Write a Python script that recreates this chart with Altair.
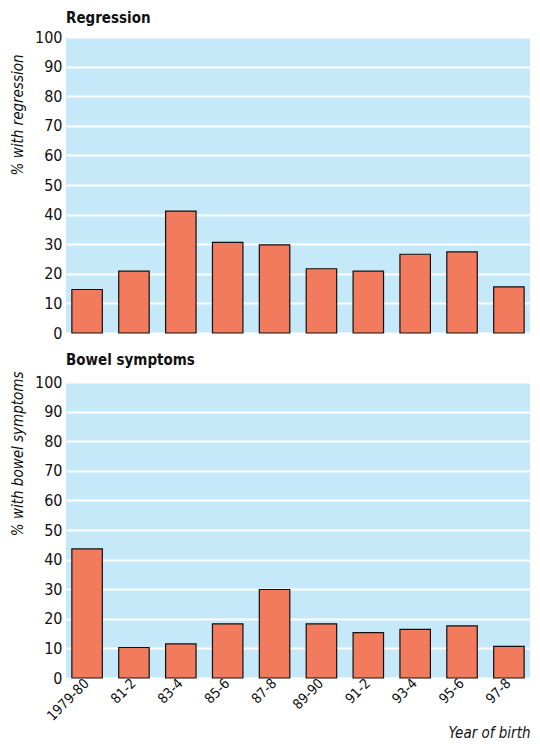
import altair as alt
import pandas as pd

years = ["1979-80", "81-2", "83-4", "85-6", "87-8", "89-90", "91-2", "93-4", "95-6", "97-8"]
regression = [14.7, 20.9, 41.2, 30.6, 29.8, 21.7, 20.9, 26.6, 27.4, 15.6]
bowel = [43.6, 10.3, 11.5, 18.3, 29.9, 18.3, 15.3, 16.4, 17.6, 10.7]

FONT = "'Liberation Sans Narrow', 'DejaVu Sans Condensed', 'Roboto Condensed', 'Liberation Sans', sans-serif"
BAR = "#f27b5d"
BG = "#c5e9f8"

df_reg = pd.DataFrame({"year": years, "value": regression})
df_bow = pd.DataFrame({"year": years, "value": bowel})

xscale = alt.Scale(domain=years, paddingInner=0.35, paddingOuter=0.125)
yscale = alt.Scale(domain=[0, 100])


def panel(df, title, ytitle, bottom, ty):
    if bottom:
        xaxis = alt.Axis(title="Year of birth", labelAngle=-45, labelAlign="right",
                         labelBaseline="middle", labelPadding=3, ticks=False, domain=False,
                         grid=False, labelFontSize=14, labelFont=FONT, labelColor="#111",
                         titleFont=FONT, titleFontSize=15, titleFontStyle="italic",
                         titleFontWeight="normal", titleAnchor="end", titleAlign="right",
                         titlePadding=2, titleColor="#111")
    else:
        xaxis = alt.Axis(title=None, labels=False, ticks=False, domain=False, grid=False)
    return alt.Chart(df).mark_bar(color=BAR, stroke="#111", strokeWidth=1.2).encode(
        x=alt.X("year:N", sort=years, scale=xscale, axis=xaxis),
        y=alt.Y("value:Q", scale=yscale,
                axis=alt.Axis(title=ytitle, values=list(range(0, 101, 10)), ticks=False,
                              domain=False, gridColor="white", gridWidth=2, gridOpacity=1,
                              labelFont=FONT, labelFontSize=16, labelColor="#111", labelPadding=4,
                              titleFont=FONT, titleFontSize=15, titleFontStyle="italic",
                              titleFontWeight="normal", titleColor="#111", titlePadding=9,
                              titleY=ty, titleAlign="right")),
    ).properties(
        width=464, height=296,
        title=alt.TitleParams(title, anchor="start", frame="group", font=FONT, fontSize=15,
                              fontWeight="bold", color="#111", offset=3),
    )


top = panel(df_reg, "Regression", "% with regression", False, 17)
bottom = panel(df_bow, "Bowel symptoms", "% with bowel symptoms", True, -11)

chart = alt.vconcat(top, bottom, spacing=12).properties(
    background="white", padding={"left": 2, "top": 3, "right": 0, "bottom": 0}
).configure_view(fill=BG, strokeWidth=0)

chart.save("out.html", embed_options={"renderer": "svg", "actions": False})
